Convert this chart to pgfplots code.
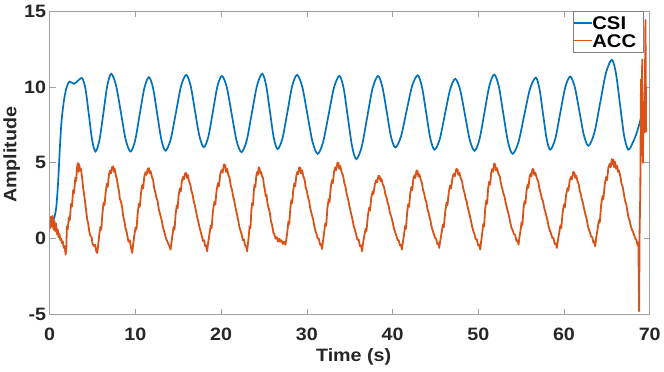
\documentclass[border=0pt]{standalone}
\usepackage{fontspec}
\setmainfont{Liberation Sans}[FakeStretch=1.1]
\usepackage{pgfplots}
\pgfplotsset{compat=1.18}
\definecolor{csi}{RGB}{0,114,189}
\definecolor{acc}{RGB}{217,83,25}
\definecolor{axgray}{RGB}{160,160,160}
\definecolor{lbl}{RGB}{38,38,38}
\newcommand{\bigbf}{\fontsize{18}{20}\selectfont\bfseries}
\newcommand{\legbf}{\fontsize{18.5}{20}\selectfont\bfseries}
\begin{document}
\begin{tikzpicture}
\begin{axis}[
  scale only axis, width=601bp, height=304bp,
  xmin=0, xmax=70, ymin=-5, ymax=15,
  xtick={0,10,...,70}, ytick={-5,0,...,15},
  axis line style={axgray, line width=0.6bp},
  tick style={axgray, line width=0.6bp},
  major tick length=6bp,
  tick align=inside,
  ticklabel style={font=\bigbf, text=lbl},
  xticklabel style={yshift=-10bp},
  /pgf/number format/assume math mode=true,
  xlabel={Time (s)}, ylabel={Amplitude},
  xlabel style={font=\bigbf, text=lbl, at={(axis description cs:0.5,0)}, anchor=center, xshift=4bp, yshift=-42bp},
  ylabel style={font=\bigbf, text=lbl, at={(axis description cs:0,0.5)}, anchor=center, rotate=0, yshift=38bp, xshift=8bp},
  legend style={at={(rel axis cs:0.9895,1)}, anchor=north east,
    draw=gray, font=\legbf, inner xsep=0bp, inner ysep=3bp,
    row sep=0bp, column sep=0bp,
    nodes={inner xsep=0bp, inner ysep=2bp, text height=13.5bp, text depth=0bp}},
  legend cell align=left,
  legend image code/.code={\draw[#1, line width=1.7bp] (0bp,0bp) -- (18bp,0bp);},
]
\addplot[csi, line width=1.7bp, smooth, tension=0.5] coordinates {
(0.3,1.0)(0.6,1.5)(0.8,2.2)(1.0,3.8)(1.2,6.0)(1.4,7.8)(1.7,9.2)(2.0,10.0)(2.33,10.35)(2.84,10.2)(3.3,10.4)(3.8,10.57)
(4.19,9.85)(4.58,8.16)(4.97,6.46)(5.36,5.74)
(5.82,6.51)(6.28,8.30)(6.73,10.09)(7.19,10.86)
(7.75,10.09)(8.32,8.30)(8.88,6.51)(9.44,5.74)
(9.98,6.48)(10.51,8.19)(11.05,9.91)(11.58,10.64)
(12.07,9.91)(12.55,8.22)(13.04,6.52)(13.52,5.79)
(14.12,6.54)(14.73,8.29)(15.33,10.04)(15.93,10.79)
(16.45,10.08)(16.96,8.41)(17.48,6.74)(17.99,6.03)
(18.52,6.73)(19.05,8.38)(19.57,10.02)(20.1,10.72)
(20.67,9.97)(21.24,8.21)(21.81,6.45)(22.38,5.70)
(22.99,6.47)(23.59,8.28)(24.2,10.09)(24.8,10.86)
(25.25,10.12)(25.7,8.38)(26.15,6.64)(26.6,5.90)
(27.17,6.63)(27.74,8.35)(28.3,10.06)(28.87,10.79)
(29.47,10.01)(30.07,8.19)(30.67,6.37)(31.27,5.59)
(31.9,6.36)(32.54,8.16)(33.17,9.95)(33.8,10.72)
(34.3,9.9)(34.79,7.98)(35.29,6.06)(35.78,5.24)
(36.41,6.06)(37.04,7.98)(37.67,9.9)(38.3,10.72)
(38.81,10.01)(39.32,8.37)(39.82,6.72)(40.33,6.01)
(40.98,6.72)(41.63,8.39)(42.28,10.05)(42.93,10.76)
(43.42,10.03)(43.92,8.31)(44.41,6.6)(44.9,5.86)
(45.51,6.56)(46.11,8.2)(46.72,9.83)(47.32,10.53)
(47.88,9.82)(48.45,8.16)(49.01,6.5)(49.57,5.79)
(50.14,6.54)(50.72,8.3)(51.29,10.06)(51.86,10.81)
(52.4,10.03)(52.93,8.2)(53.47,6.37)(54.0,5.59)
(54.68,6.34)(55.35,8.1)(56.03,9.86)(56.7,10.61)
(57.13,9.9)(57.55,8.24)(57.98,6.57)(58.4,5.86)
(58.98,6.58)(59.56,8.27)(60.14,9.96)(60.72,10.68)
(61.26,9.98)(61.79,8.4)(62.33,6.8)(62.86,6.12)
(63.54,6.97)(64.22,8.95)(64.9,10.93)(65.58,11.78)
(66.06,10.89)(66.54,8.82)(67.02,6.75)(67.5,5.86)
(68.0,6.3)(68.5,7.0)(69.0,8.0)
};
\addlegendentry{CSI}
\addplot[acc, line width=1.8bp, line join=round] table {
0.00 1.20
0.08 0.70
0.15 1.45
0.25 0.80
0.35 1.50
0.45 0.60
0.55 1.20
0.65 0.50
0.75 1.00
0.85 0.30
0.95 0.60
1.05 0.10
1.15 0.30
1.25 -0.10
1.35 0.00
1.45 -0.30
1.55 -0.20
1.65 -0.60
1.75 -0.50
1.87 -1.05
1.95 -0.60
2.02 0.80
2.10 0.60
2.25 1.40
2.35 1.20
2.50 2.30
2.60 2.10
2.75 3.20
2.85 3.00
3.00 4.00
3.10 3.80
3.20 4.70
3.30 4.98
3.38 4.40
3.45 4.90
3.55 4.50
3.65 4.60
3.80 4.00
3.90 3.40
4.00 3.00
4.10 2.60
4.25 1.90
4.39 1.25
4.50 1.00
4.65 0.40
4.78 0.15
4.90 0.10
5.00 -0.30
5.17 -0.50
5.30 -0.40
5.45 -0.85
5.56 -0.94
5.65 -0.50
5.80 0.30
5.93 0.77
6.03 0.60
6.15 1.60
6.30 2.37
6.40 2.20
6.55 3.10
6.68 3.62
6.78 3.40
6.92 4.20
7.05 4.48
7.15 4.30
7.28 4.70
7.42 4.76
7.50 4.40
7.60 4.60
7.75 4.10
7.86 3.91
7.96 3.50
8.10 3.10
8.20 2.60
8.31 2.48
8.45 2.10
8.58 1.50
8.75 1.06
8.85 0.70
9.00 0.40
9.10 0.10
9.20 -0.20
9.35 -0.10
9.50 -0.60
9.64 -0.94
9.72 -0.50
9.85 0.10
10.03 0.74
10.13 0.60
10.28 1.70
10.42 2.30
10.52 2.10
10.66 3.00
10.80 3.53
10.90 3.30
11.05 4.10
11.19 4.37
11.30 4.20
11.45 4.60
11.58 4.65
11.66 4.30
11.78 4.45
11.92 4.10
12.08 3.84
12.18 3.40
12.35 3.00
12.45 2.70
12.59 2.50
12.75 1.90
12.90 1.60
13.09 1.16
13.20 0.80
13.35 0.50
13.45 0.30
13.60 -0.02
13.75 -0.20
13.90 -0.40
14.00 -0.50
14.10 -0.72
14.18 -0.40
14.32 0.20
14.47 0.79
14.57 0.60
14.70 1.60
14.83 2.20
14.93 2.00
15.06 2.90
15.20 3.31
15.30 3.10
15.43 3.80
15.56 4.07
15.66 3.90
15.80 4.30
15.93 4.32
16.02 4.00
16.12 4.20
16.25 3.80
16.42 3.55
16.52 3.20
16.68 2.90
16.80 2.50
16.91 2.26
17.05 1.90
17.22 1.40
17.40 0.97
17.50 0.70
17.65 0.40
17.75 0.20
17.89 -0.16
18.02 -0.10
18.15 -0.50
18.25 -0.45
18.38 -0.83
18.46 -0.40
18.62 0.20
18.80 0.86
18.90 0.70
19.05 1.80
19.23 2.44
19.33 2.25
19.48 3.20
19.65 3.67
19.75 3.45
19.92 4.30
20.08 4.52
20.18 4.35
20.35 4.90
20.50 4.80
20.58 4.40
20.70 4.60
20.85 4.20
21.01 3.96
21.12 3.50
21.28 3.20
21.40 2.80
21.52 2.55
21.66 2.10
21.82 1.70
22.02 1.14
22.12 0.80
22.28 0.50
22.40 0.30
22.53 -0.10
22.66 -0.05
22.80 -0.45
22.92 -0.50
23.04 -0.83
23.12 -0.40
23.22 0.10
23.33 0.81
23.43 0.70
23.53 1.80
23.62 2.35
23.72 2.20
23.82 3.10
23.90 3.55
24.00 3.40
24.10 4.10
24.19 4.38
24.29 4.20
24.40 4.70
24.48 4.65
24.56 4.30
24.66 4.40
24.78 4.10
24.90 4.00
25.00 3.50
25.12 3.20
25.20 2.80
25.30 2.90
25.42 2.30
25.55 2.00
25.70 1.70
25.80 1.20
25.95 0.90
26.10 0.40
26.20 0.30
26.35 0.00
26.50 0.10
26.65 -0.20
26.80 0.00
26.90 -0.20
27.05 -0.10
27.20 -0.35
27.35 -0.20
27.50 -0.40
27.60 -0.10
27.72 0.40
27.85 1.12
27.95 0.95
28.08 2.00
28.20 2.53
28.30 2.35
28.42 3.20
28.55 3.64
28.65 3.45
28.78 4.15
28.90 4.40
29.00 4.25
29.12 4.70
29.25 4.65
29.33 4.30
29.45 4.50
29.60 4.10
29.76 3.85
29.86 3.40
30.02 3.10
30.15 2.70
30.26 2.52
30.40 2.00
30.58 1.60
30.77 1.19
30.88 0.80
31.02 0.50
31.14 0.30
31.27 0.01
31.40 0.00
31.55 -0.40
31.66 -0.35
31.78 -0.68
31.86 -0.30
32.00 0.30
32.16 1.02
32.26 0.85
32.40 2.00
32.55 2.60
32.65 2.40
32.80 3.40
32.93 3.85
33.03 3.65
33.18 4.40
33.32 4.70
33.42 4.50
33.58 5.00
33.70 4.98
33.78 4.60
33.90 4.80
34.05 4.40
34.25 4.11
34.36 3.70
34.52 3.40
34.66 2.90
34.80 2.66
34.95 2.20
35.15 1.70
35.35 1.20
35.46 0.85
35.62 0.55
35.75 0.30
35.90 -0.07
36.05 -0.05
36.20 -0.50
36.32 -0.45
36.45 -0.83
36.53 -0.40
36.68 0.10
36.86 0.65
36.96 0.50
37.12 1.50
37.27 2.03
37.37 1.85
37.52 2.70
37.68 3.11
37.78 2.95
37.94 3.60
38.09 3.85
38.20 3.70
38.36 4.15
38.50 4.10
38.58 3.80
38.70 3.95
38.85 3.60
39.02 3.38
39.13 3.00
39.30 2.70
39.42 2.40
39.54 2.17
39.70 1.70
39.88 1.40
40.06 0.97
40.17 0.65
40.32 0.40
40.45 0.20
40.58 -0.09
40.72 -0.10
40.86 -0.45
40.98 -0.40
41.10 -0.72
41.18 -0.35
41.32 0.20
41.47 0.83
41.57 0.65
41.70 1.70
41.83 2.27
41.93 2.10
42.07 3.00
42.20 3.40
42.30 3.20
42.43 3.95
42.56 4.17
42.66 4.00
42.80 4.50
42.93 4.43
43.01 4.10
43.13 4.25
43.28 3.90
43.43 3.67
43.54 3.25
43.70 2.95
43.82 2.60
43.94 2.41
44.08 1.95
44.25 1.60
44.44 1.15
44.55 0.80
44.70 0.50
44.82 0.30
44.95 0.05
45.08 0.00
45.22 -0.35
45.34 -0.30
45.45 -0.61
45.53 -0.25
45.70 0.30
45.88 0.94
45.98 0.75
46.15 1.80
46.31 2.38
46.41 2.20
46.57 3.10
46.73 3.51
46.83 3.30
47.00 4.05
47.16 4.28
47.26 4.10
47.44 4.60
47.59 4.54
47.67 4.20
47.80 4.35
47.95 4.00
48.12 3.75
48.23 3.35
48.40 3.00
48.53 2.65
48.65 2.44
48.80 2.00
48.98 1.60
49.17 1.12
49.28 0.80
49.43 0.50
49.56 0.30
49.70 -0.04
49.84 -0.05
49.98 -0.45
50.10 -0.40
50.23 -0.72
50.31 -0.30
50.45 0.30
50.58 0.96
50.68 0.80
50.80 1.90
50.93 2.52
51.03 2.30
51.15 3.30
51.28 3.75
51.38 3.55
51.50 4.30
51.63 4.59
51.73 4.40
51.86 4.95
51.98 4.87
52.06 4.50
52.18 4.65
52.34 4.30
52.52 4.08
52.62 3.70
52.80 3.30
52.95 2.95
53.07 2.76
53.22 2.30
53.40 1.90
53.61 1.44
53.72 1.10
53.88 0.70
54.02 0.55
54.16 0.29
54.30 0.25
54.45 -0.15
54.58 -0.10
54.70 -0.40
54.78 0.00
54.92 0.50
55.05 1.08
55.15 0.90
55.28 2.00
55.40 2.47
55.50 2.30
55.63 3.15
55.75 3.55
55.85 3.35
55.98 4.05
56.10 4.29
56.20 4.10
56.33 4.60
56.45 4.54
56.53 4.20
56.65 4.35
56.82 4.00
57.00 3.77
57.11 3.35
57.28 3.00
57.42 2.65
57.54 2.48
57.70 2.00
57.88 1.65
58.08 1.19
58.19 0.85
58.35 0.55
58.48 0.35
58.63 0.06
58.77 0.05
58.92 -0.35
59.04 -0.30
59.17 -0.61
59.25 -0.25
59.40 0.25
59.58 0.87
59.68 0.70
59.84 1.70
59.99 2.25
60.09 2.05
60.25 2.90
60.41 3.33
60.51 3.15
60.67 3.85
60.82 4.07
60.92 3.90
61.08 4.40
61.23 4.32
61.31 4.00
61.43 4.15
61.57 3.80
61.71 3.60
61.82 3.20
61.98 2.90
62.08 2.60
62.19 2.39
62.35 1.95
62.50 1.60
62.68 1.19
62.78 0.85
62.93 0.55
63.04 0.40
63.16 0.13
63.30 0.10
63.42 -0.25
63.53 -0.20
63.64 -0.50
63.72 -0.10
63.88 0.50
64.07 1.21
64.17 1.05
64.33 2.20
64.49 2.81
64.59 2.60
64.76 3.60
64.92 4.06
65.02 3.85
65.18 4.70
65.34 4.92
65.44 4.70
65.58 5.25
65.68 4.90
65.77 5.20
65.86 4.70
65.96 5.05
66.08 4.60
66.20 4.80
66.30 4.40
66.42 4.50
66.60 4.00
66.72 3.60
66.85 3.40
67.00 2.90
67.12 2.50
67.25 2.30
67.40 1.80
67.52 1.40
67.65 1.20
67.80 0.80
67.92 0.60
68.05 0.45
68.20 0.20
68.32 0.00
68.45 -0.10
68.60 -0.45
68.68 -0.25
68.76 -4.78
68.82 0.50
68.90 3.00
68.98 10.50
69.05 5.50
69.12 11.80
69.20 5.00
69.30 9.00
69.40 7.00
69.50 14.40
69.58 7.00
};
\addlegendentry{ACC\hspace*{7bp}}
\end{axis}
\path ([shift={(-49bp,-57bp)}]current axis.south west) rectangle ([shift={(14bp,11bp)}]current axis.north east);
\end{tikzpicture}
\end{document}
